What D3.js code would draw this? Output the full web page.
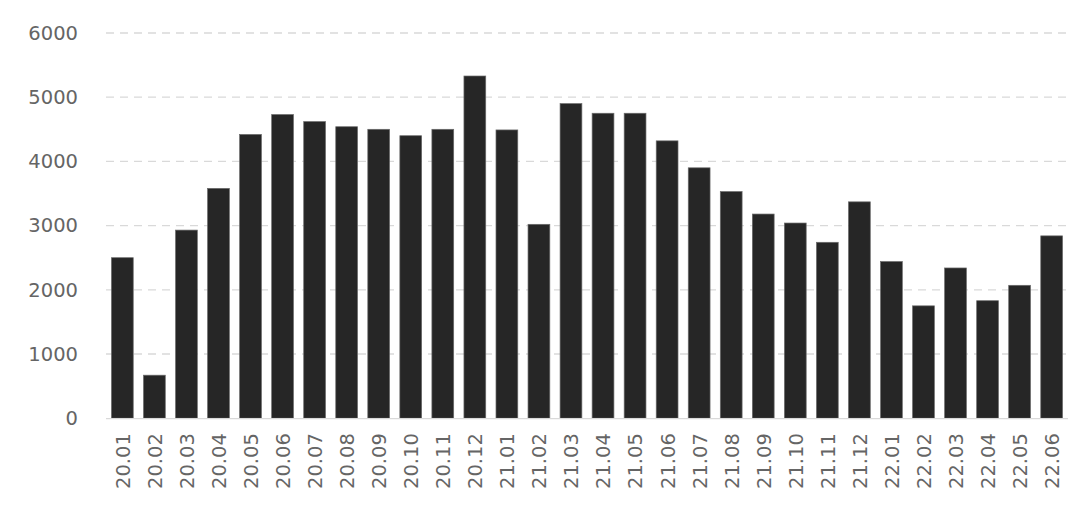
<!DOCTYPE html>
<html>
<head>
<meta charset="utf-8">
<script src="https://cdn.jsdelivr.net/npm/d3@7"></script>
<style>
  html, body { margin: 0; padding: 0; background: #fff; }
  svg { display: block; }
</style>
</head>
<body>
<svg id="chart" width="1080" height="523"></svg>
<script>
const categories = ["20.01","20.02","20.03","20.04","20.05","20.06","20.07","20.08","20.09","20.10","20.11","20.12",
                    "21.01","21.02","21.03","21.04","21.05","21.06","21.07","21.08","21.09","21.10","21.11","21.12",
                    "22.01","22.02","22.03","22.04","22.05","22.06"];
const values = [2500, 670, 2930, 3580, 4420, 4730, 4620, 4540, 4500, 4400, 4500, 5330,
                4490, 3020, 4900, 4750, 4750, 4320, 3900, 3530, 3180, 3040, 2740, 3370,
                2440, 1750, 2340, 1830, 2070, 2840];
const yTicks = [0, 1000, 2000, 3000, 4000, 5000, 6000];

(function () {
const svg = d3.select("#chart");
const mLeft = 106, mRight = 1068, mTop = 33, mBottom = 418.2;

const x = d3.scaleBand().domain(categories).range([mLeft, mRight]).paddingInner(0.32).paddingOuter(0.17);
const y = d3.scaleLinear().domain([0, 6000]).range([mBottom, mTop]);

const font = "DejaVu Sans, sans-serif";
const textColor = "#656565";

// gridlines
svg.append("g").selectAll("line").data(yTicks.filter(d => d > 0)).join("line")
  .attr("x1", mLeft).attr("x2", mRight)
  .attr("y1", d => y(d)).attr("y2", d => y(d))
  .attr("stroke", "#d9d9d9").attr("stroke-width", 1.3)
  .attr("stroke-dasharray", "8,6");

// bars
svg.append("g").selectAll("rect").data(values).join("rect")
  .attr("x", (d, i) => x(categories[i]))
  .attr("width", x.bandwidth())
  .attr("y", d => y(d))
  .attr("height", d => y(0) - y(d))
  .attr("fill", "#262626")
  .attr("stroke", "#6a6a6a").attr("stroke-width", 0.7);

// baseline
svg.append("line").attr("x1", mLeft).attr("x2", mRight)
  .attr("y1", y(0) + 0.5).attr("y2", y(0) + 0.5)
  .attr("stroke", "#d9d9d9").attr("stroke-width", 1.3);

// y axis labels
const yAxis = d3.axisLeft(y).tickValues(yTicks).tickSize(0).tickPadding(0).tickFormat(d3.format("d"));
const yg = svg.append("g").attr("transform", "translate(78,0)").call(yAxis);
yg.select(".domain").remove();
yg.selectAll("text").attr("font-family", font).attr("font-size", 19.5).attr("fill", textColor);

// x axis labels
const xAxis = d3.axisBottom(x).tickSize(0).tickPadding(0);
const xg = svg.append("g").attr("transform", `translate(0,${mBottom})`).call(xAxis);
xg.select(".domain").remove();
xg.selectAll("text")
  .attr("font-family", font).attr("font-size", 19.5).attr("fill", textColor)
  .attr("text-anchor", "end")
  .attr("transform", "rotate(-90)")
  .attr("x", -15).attr("y", 0).attr("dy", "0.38em");
})();
</script>
</body>
</html>
